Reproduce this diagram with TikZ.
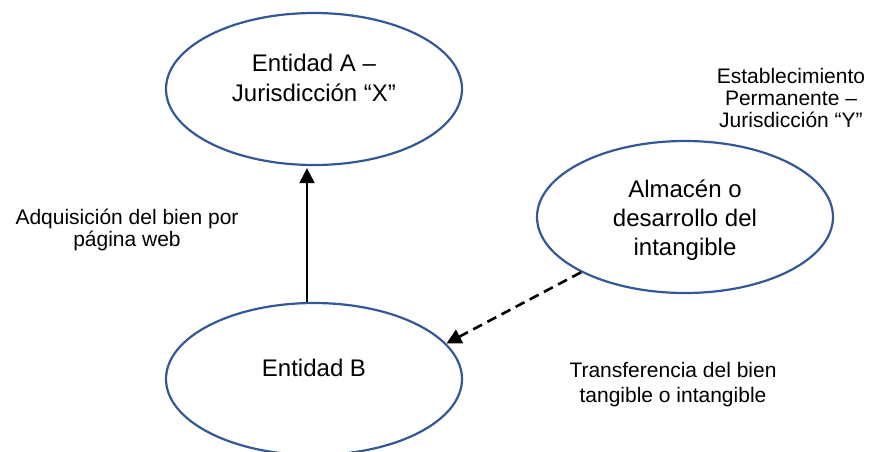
\documentclass[tikz,border=0pt]{standalone}
\usepackage{fontspec}
\setmainfont{Liberation Sans}
\usetikzlibrary{shapes.geometric,arrows.meta}
\definecolor{ellblue}{RGB}{52,88,150}
\begin{document}
\begin{tikzpicture}[x=1pt,y=-1pt,
  ell/.style={ellipse, draw=ellblue, line width=2.2pt, minimum width=296pt, minimum height=152pt, inner sep=0pt},
  bigtxt/.style={align=center, inner sep=0pt, font=\fontsize{24}{30}\selectfont},
  smalltxt/.style={align=center, inner sep=0pt, font=\fontsize{21}{22}\selectfont},
  conn/.style={line width=2pt, -{Triangle[length=15pt,width=15pt]}}
]
\useasboundingbox (0,0) rectangle (873,451);
\node[ell] (A) at (314,89) {};
\node[ell] (B) at (314,379) {};
\node[ell] (C) at (685,217) {};
\node[bigtxt] (At) at (314,78) {Entidad A –\\Jurisdicción “X”};
\node[bigtxt] (Bt) at (314,368) {Entidad B};
\node[bigtxt, font=\fontsize{24}{29}\selectfont] (Ct) at (685,220) {Almacén o\\desarrollo del\\intangible};
\node[smalltxt] (EP) at (791,98) {Establecimiento\\Permanente –\\Jurisdicción “Y”};
\node[smalltxt, font=\fontsize{21}{22.4}\selectfont] (Adq) at (127,230) {Adquisición del bien por\\página web};
\node[smalltxt, font=\fontsize{21}{25.4}\selectfont] (Tr) at (673,384.5) {Transferencia del bien\\tangible o intangible};
\draw[conn, shorten >=2pt] ([xshift=-7pt]B.north) -- ([xshift=-7pt]A.south);
\draw[conn, line width=2.6pt, dash pattern=on 10pt off 6pt] (C.208) -- (B.15);
\end{tikzpicture}
\end{document}
